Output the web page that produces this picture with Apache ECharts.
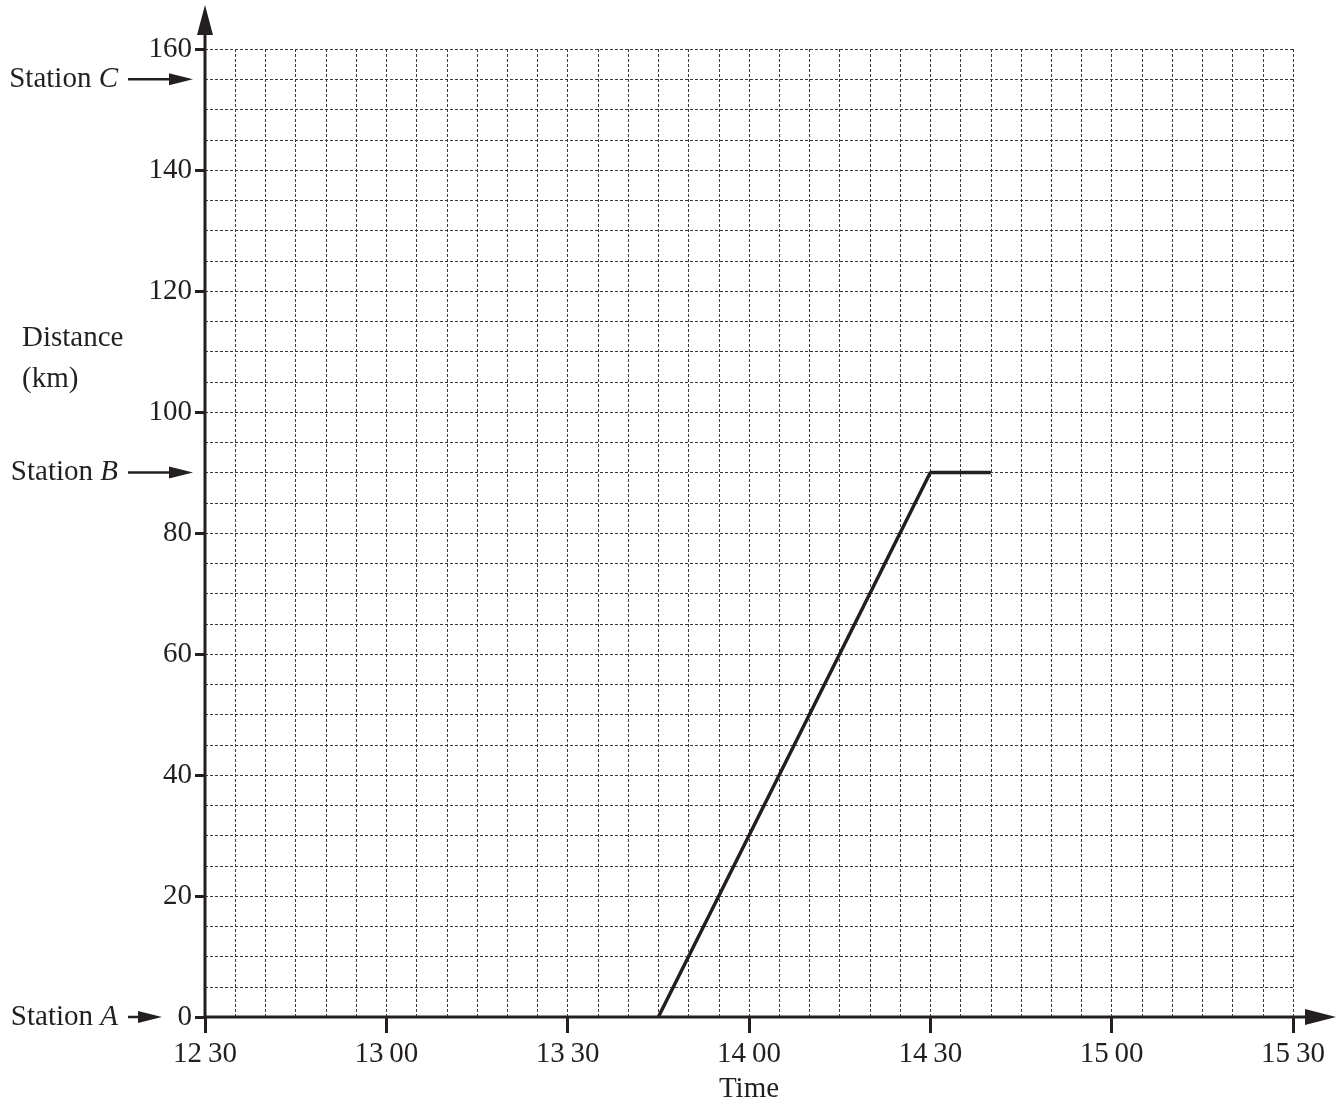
<!DOCTYPE html>
<html><head><meta charset="utf-8">
<script src="https://cdn.jsdelivr.net/npm/echarts@6/dist/echarts.min.js"></script>
<style>html,body{margin:0;padding:0;background:#fff}#c{width:1343px;height:1106px}</style>
</head><body><div id="c"></div>
<script>
// minutes after 12:30
const timeMinutes = [75, 120, 130];      // 13:45, 14:30, 14:40
const distanceKm = [0, 90, 90];
const xTickMinutes = [0, 30, 60, 90, 120, 150, 180];
const yTicks = [0, 20, 40, 60, 80, 100, 120, 140, 160];
const stations = [{name: 'A', km: 0}, {name: 'B', km: 90}, {name: 'C', km: 155}];

const FONT = 'Liberation Serif';
const FS = 29;
const INK = '#231f20';
const chart = echarts.init(document.getElementById('c'));

function fmtTime(v) {
  const t = 12 * 60 + 30 + v;
  const h = Math.floor(t / 60), m = t % 60;
  return h + '\u2009' + (m < 10 ? '0' + m : m);
}

const dotted = {color: '#3a3a3a', width: 1, type: [3, 2]};
chart.setOption({
  animation: false,
  grid: {left: 205, right: 50, top: 49, bottom: 89, containLabel: false},
  xAxis: {
    type: 'value', min: 0, max: 180, interval: 30,
    axisLine: {show: false},
    axisTick: {show: true, length: 16, lineStyle: {color: INK, width: 3}},
    axisLabel: {formatter: fmtTime, fontFamily: FONT, fontSize: FS, color: INK, margin: 23},
    splitLine: {show: true, lineStyle: dotted},
    minorTick: {show: false, splitNumber: 6},
    minorSplitLine: {show: true, lineStyle: dotted}
  },
  yAxis: {
    type: 'value', min: 0, max: 160, interval: 20,
    axisLine: {show: false},
    axisTick: {show: true, length: 10, lineStyle: {color: INK, width: 3}},
    axisLabel: {fontFamily: FONT, fontSize: FS, color: INK, margin: 13},
    splitLine: {show: true, lineStyle: dotted},
    minorTick: {show: false, splitNumber: 4},
    minorSplitLine: {show: true, lineStyle: dotted}
  },
  series: [{
    type: 'line',
    data: timeMinutes.map((t, i) => [t, distanceKm[i]]),
    symbol: 'none',
    lineStyle: {color: INK, width: 3.5},
    z: 5
  }]
});

const o = chart.convertToPixel({gridIndex: 0}, [0, 0]);
const xm = chart.convertToPixel({gridIndex: 0}, [180, 160]);
const g = [];
// axis lines with arrows
g.push({type: 'line', shape: {x1: o[0], y1: o[1] + 1, x2: o[0], y2: 20}, style: {stroke: INK, lineWidth: 3}, z: 10});
g.push({type: 'polygon', shape: {points: [[o[0], 5], [o[0] - 8, 35], [o[0] + 8, 35]]}, style: {fill: INK}, z: 10});
g.push({type: 'line', shape: {x1: o[0] - 1, y1: o[1], x2: 1320, y2: o[1]}, style: {stroke: INK, lineWidth: 3}, z: 10});
g.push({type: 'polygon', shape: {points: [[1336, o[1]], [1305, o[1] - 8], [1305, o[1] + 8]]}, style: {fill: INK}, z: 10});

// station labels
stations.forEach(s => {
  const p = chart.convertToPixel({gridIndex: 0}, [0, s.km]);
  const y = p[1];
  g.push({type: 'text', style: {
    text: '{n|Station }{i|' + s.name + '}',
    x: 118, y: y, align: 'right', verticalAlign: 'middle',
    rich: {n: {fontFamily: FONT, fontSize: FS, fill: INK}, i: {fontFamily: FONT, fontSize: FS, fontStyle: 'italic', fill: INK}}
  }, z: 10});
  const tip = s.km === 0 ? 162 : 193;
  g.push({type: 'line', shape: {x1: 128, y1: y, x2: tip - 15, y2: y}, style: {stroke: INK, lineWidth: 2.5}, z: 10});
  g.push({type: 'polygon', shape: {points: [[tip, y], [tip - 24, y - 6], [tip - 24, y + 6]]}, style: {fill: INK}, z: 10});
});

// axis titles
g.push({type: 'text', style: {text: 'Distance\n(km)', x: 22, y: 318, align: 'left', verticalAlign: 'top',
  fontFamily: FONT, fontSize: FS, lineHeight: 41, fill: INK}, z: 10});
g.push({type: 'text', style: {text: 'Time', x: (o[0] + xm[0]) / 2, y: 1089, align: 'center', verticalAlign: 'middle',
  fontFamily: FONT, fontSize: FS, fill: INK}, z: 10});

chart.setOption({graphic: {elements: g}});
</script></body></html>
